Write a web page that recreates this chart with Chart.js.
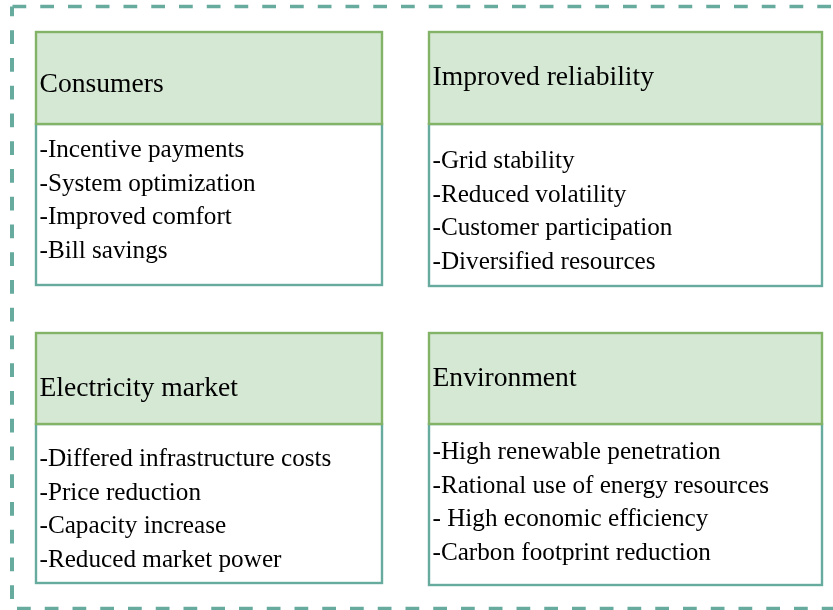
<!DOCTYPE html>
<html><head><meta charset="utf-8">
<script src="https://cdn.jsdelivr.net/npm/chart.js@4/dist/chart.umd.min.js"></script>
<style>html,body{margin:0;padding:0;background:#fff}canvas{display:block}</style>
</head><body>
<canvas id="c" width="833" height="610"></canvas>
<script>
const titles=['Consumers','Improved reliability','Electricity market','Environment'];
const consumerItems=['-Incentive payments','-System optimization','-Improved comfort','-Bill savings'];
const reliabilityItems=['-Grid stability','-Reduced volatility','-Customer participation','-Diversified resources'];
const marketItems=['-Differed infrastructure costs','-Price reduction','-Capacity increase','-Reduced market power'];
const environmentItems=['-High renewable penetration','-Rational use of energy resources','- High economic efficiency','-Carbon footprint reduction'];
const items=[consumerItems,reliabilityItems,marketItems,environmentItems];

// panel frames, in scale units (x 0..833, y 0..610 top-down)
const frames=[
 {x0:36,x1:382,top:32,mid:124,bottom:285,head:59.7,first:33},
 {x0:429,x1:822,top:32,mid:124,bottom:286,head:53,first:44},
 {x0:36,x1:382,top:333,mid:424,bottom:583,head:63,first:42},
 {x0:429,x1:822,top:333,mid:424,bottom:585,head:53,first:35}
];
const LINE=33.7;

const panels={
 id:'panels',
 afterDraw(chart){
  const {ctx,scales:{x,y}}=chart;
  const px=v=>x.getPixelForValue(v), py=v=>y.getPixelForValue(v);
  ctx.save();
  // dashed outer frame
  ctx.strokeStyle='#67ab9f'; ctx.lineCap='butt';
  const dash=(x0,y0,x1,y1,w,off)=>{
   ctx.beginPath(); ctx.lineWidth=w; ctx.setLineDash([13.75,14]); ctx.lineDashOffset=off;
   ctx.moveTo(px(x0),py(y0)); ctx.lineTo(px(x1),py(y1)); ctx.stroke();
  };
  dash(12.5,6.5,845,6.5,3.5,0);
  dash(12,6.5,12,610,4,4);
  dash(17,608.5,845,608.5,3.5,0);
  ctx.setLineDash([]);

  frames.forEach((f,i)=>{
   const l=px(f.x0), r=px(f.x1), t=py(f.top), m=py(f.mid), b=py(f.bottom);
   ctx.lineWidth=2.4;
   ctx.fillStyle='#ffffff'; ctx.fillRect(l,m,r-l,b-m);
   ctx.strokeStyle='#67ab9f'; ctx.strokeRect(l,m,r-l,b-m);
   ctx.fillStyle='#d5e8d4'; ctx.fillRect(l,t,r-l,m-t);
   ctx.strokeStyle='#82b366'; ctx.strokeRect(l,t,r-l,m-t);

   ctx.fillStyle='#000'; ctx.textAlign='left'; ctx.textBaseline='alphabetic';
   ctx.font='27.6px "Liberation Serif", "Times New Roman", serif';
   ctx.fillText(titles[i],px(f.x0+3.5),py(f.top+f.head));
   ctx.font='25.2px "Liberation Serif", "Times New Roman", serif';
   items[i].forEach((s,k)=>ctx.fillText(s,px(f.x0+3.5),py(f.mid+f.first+k*LINE)));
  });
  ctx.restore();
 }
};

new Chart(document.getElementById('c'),{
 type:'scatter',
 data:{datasets:[{data:[],pointRadius:0}]},
 options:{
  responsive:false,animation:false,devicePixelRatio:1,
  layout:{padding:0},
  plugins:{legend:{display:false},tooltip:{enabled:false}},
  scales:{
   x:{type:'linear',min:0,max:833,display:false},
   y:{type:'linear',min:0,max:610,reverse:true,display:false}
  }
 },
 plugins:[panels]
});
</script>
</body></html>
